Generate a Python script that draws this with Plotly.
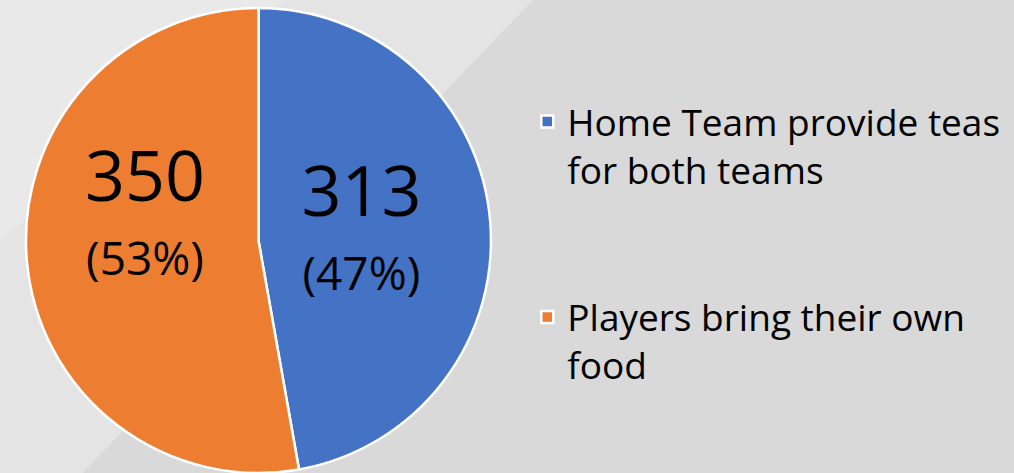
import plotly.graph_objects as go

# Survey answers
labels = ["Home Team provide teas<br>for both teams", "Players bring their own<br>food"]
values = [313, 350]
colors = ["#4472C4", "#ED7D31"]


def ghost(txt, size):
    # invisible filler, only used to nudge where plotly centres the label
    return f"<span style='font-size:{size}px;color:rgba(0,0,0,0)'>{txt}</span>"


big = "<span style='font-size:70px'>%{value}</span>"
small = "<span style='font-size:46px'>(%{percent:.0%})</span>"
text_templates = [
    big + ghost("nn", 21) + "<br>" + small + ghost(".", 100),
    big + ghost("nn", 28) + "<br>" + small + ghost("nn", 28) + "<br>" + ghost(".", 17),
]

# the first legend entry has a large gap below it
legend_names = [labels[0] + "<br> <br> ", labels[1]]

fig = go.Figure(go.Pie(
    labels=legend_names,
    values=values,
    sort=False,
    direction="clockwise",
    rotation=0,
    marker=dict(colors=colors, line=dict(color="white", width=2.5)),
    texttemplate=text_templates,
    textposition="inside",
    insidetextorientation="horizontal",
    textfont=dict(family="Open Sans", size=57, color="black"),
    domain=dict(x=[0.0256, 0.4842], y=[0, 1]),
    hovertemplate="%{value}<extra></extra>",
))

# light diagonal streaks in the grey backdrop
fig.add_shape(type="path", xref="paper", yref="paper",
              path="M 0 1.05 L 0.54 1.05 L 0.43 0.80 L 0.06 -0.05 L 0 -0.05 Z",
              fillcolor="white", opacity=0.3, line=dict(width=0), layer="below")
fig.add_shape(type="path", xref="paper", yref="paper",
              path="M 0 1.05 L 0.3 1.05 L 0 0.5 Z",
              fillcolor="white", opacity=0.2, line=dict(width=0), layer="below")

fig.update_layout(
    width=1014,
    height=473,
    margin=dict(l=0, r=0, t=8, b=0),
    paper_bgcolor="#d9d9d9",
    plot_bgcolor="#d9d9d9",
    font=dict(family="Open Sans", color="black"),
    showlegend=True,
    legend=dict(
        x=0.52, y=0.8215, xanchor="left", yanchor="top",
        font=dict(size=37, color="black"),
        valign="top",
        bgcolor="rgba(0,0,0,0)",
    ),
)

fig.write_html("out.html", config={"displayModeBar": False},
               post_script="document.body.style.margin='0';")
